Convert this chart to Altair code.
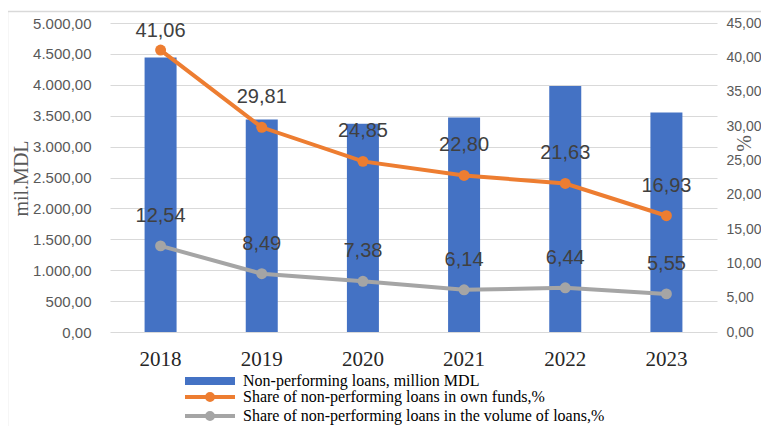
import altair as alt
import pandas as pd

years = ["2018", "2019", "2020", "2021", "2022", "2023"]
npl_mdl = [4440, 3440, 3370, 3470, 3980, 3550]
share_own_funds = [41.06, 29.81, 24.85, 22.80, 21.63, 16.93]
share_loans = [12.54, 8.49, 7.38, 6.14, 6.44, 5.55]

bar_name = "Non-performing loans, million MDL"
own_name = "Share of non-performing loans in own funds,%"
vol_name = "Share of non-performing loans in the volume of loans,%"

BLUE = "#4472C4"
ORANGE = "#ED7D31"
GREY = "#A5A5A5"

bars_df = pd.DataFrame({"year": years, "value": npl_mdl, "series": bar_name})
lines_df = pd.concat([
    pd.DataFrame({"year": years, "value": share_own_funds, "series": own_name}),
    pd.DataFrame({"year": years, "value": share_loans, "series": vol_name}),
], ignore_index=True)
lines_df["label"] = lines_df["value"].map(lambda v: f"{v:.2f}".replace(".", ","))

x_scale = alt.Scale(type="band", paddingInner=0, paddingOuter=0)
x_axis = alt.Axis(title=None, labelAngle=0, labelFont="Liberation Serif", labelFontSize=21,
                  labelColor="#262626", labelPadding=16, ticks=False, domain=False, grid=False)

def xenc():
    return alt.X("year:N", sort=years, scale=x_scale, axis=x_axis, bandPosition=0.5)

left_axis = alt.Axis(
    orient="left", values=list(range(0, 5001, 500)),
    labelExpr="replace(replace(replace(format(datum.value, ',.2f'), ',', '#'), '.', ','), '#', '.')",
    labelFont="Liberation Sans", labelFontSize=15, labelColor="#595959", labelPadding=19,
    ticks=False, domain=False, grid=True, gridColor="#d9d9d9", gridWidth=1.2,
    title="mil.MDL", titleFont="Liberation Serif", titleFontSize=20, titleFontWeight="normal",
    titleColor="#595959", titleAngle=270, titleX=-89, titleY=155, titleAlign="center",
    titleBaseline="middle")

right_axis = alt.Axis(
    orient="right", values=list(range(0, 46, 5)),
    labelExpr="replace(format(datum.value, '.2f'), '.', ',')",
    labelFont="Liberation Sans", labelFontSize=14, labelColor="#595959", labelPadding=9,
    ticks=False, domain=False, grid=False,
    title="%", titleFont="Liberation Serif", titleFontSize=20, titleFontWeight="normal",
    titleColor="#595959", titleAngle=270, titleX=27, titleY=120, titleAlign="center",
    titleBaseline="middle")

border = alt.Chart(pd.DataFrame({"a": [0]})).mark_rect(
    fill="transparent", stroke="#d9d9d9", strokeWidth=1.5
).encode(x=alt.value(-102.5), x2=alt.value(900), y=alt.value(-11.5), y2=alt.value(800))

bars = alt.Chart(bars_df).mark_bar(size=32).encode(
    x=alt.X("year:N", sort=years, scale=x_scale, axis=x_axis),
    y=alt.Y("value:Q", scale=alt.Scale(domain=[0, 5000], nice=False), axis=left_axis),
    fill=alt.Fill("series:N", scale=alt.Scale(domain=[bar_name], range=[BLUE]),
                  legend=alt.Legend(orient="none", legendX=72, legendY=350, title=None,
                                    symbolType="M-1,-0.8H9V0.8H-1Z", symbolSize=100,
                                    symbolStrokeWidth=0, labelOffset=45, labelLimit=600,
                                    labelFont="Liberation Serif", labelFontSize=16,
                                    labelColor="#000000", padding=0)),
)

y_right_scale = alt.Scale(domain=[0, 45], nice=False)

lines = alt.Chart(lines_df).mark_line(strokeWidth=4).encode(
    x=xenc(),
    y=alt.Y("value:Q", scale=y_right_scale, axis=right_axis),
    stroke=alt.Stroke("series:N", scale=alt.Scale(domain=[own_name, vol_name], range=[ORANGE, GREY]),
                      legend=alt.Legend(orient="none", legendX=72, legendY=366, title=None,
                                        symbolType="M-1,0H9M3.4,0A0.6,0.6,0,1,0,4.6,0A0.6,0.6,0,1,0,3.4,0",
                                        symbolSize=100, symbolStrokeWidth=4, labelOffset=45,
                                        labelLimit=600, rowPadding=-5,
                                        labelFont="Liberation Serif", labelFontSize=16,
                                        labelColor="#000000", padding=0)),
)

points = alt.Chart(lines_df).mark_circle(size=120, opacity=1).encode(
    x=xenc(),
    y=alt.Y("value:Q", scale=y_right_scale, axis=right_axis),
    color=alt.Color("series:N", scale=alt.Scale(domain=[own_name, vol_name], range=[ORANGE, GREY]),
                    legend=None),
)

labels = alt.Chart(lines_df).transform_calculate(
    ly="min(datum.value + 4.37, 43.9)"
).mark_text(font="Liberation Sans", fontSize=20, color="#404040", baseline="middle").encode(
    x=xenc(),
    y=alt.Y("ly:Q", scale=y_right_scale, axis=right_axis),
    text="label:N",
)

chart = alt.layer(
    border, bars, alt.layer(lines, points, labels)
).resolve_scale(y="independent").properties(
    width=607, height=309,
    autosize=alt.AutoSizeParams(type="none"),
    padding={"left": 102, "top": 15, "right": 44, "bottom": 94},
).configure_view(stroke=None)

chart.save("out.html", embed_options={"renderer": "svg", "actions": False})
